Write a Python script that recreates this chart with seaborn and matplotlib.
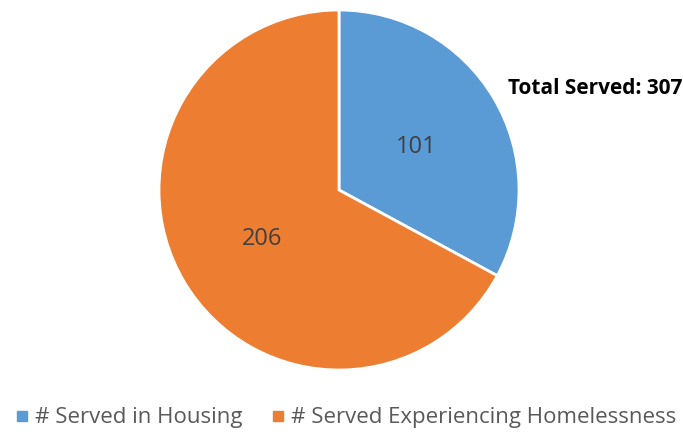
import matplotlib
matplotlib.use('Agg')
import matplotlib.pyplot as plt
import seaborn as sns
from matplotlib.lines import Line2D

categories = ['# Served in Housing', '# Served Experiencing Homelessness']
served = [101, 206]
total_label = 'Total Served: 307'

sns.set_theme(style='white')
plt.rcParams['font.family'] = ['Open Sans', 'DejaVu Sans']
colors = sns.color_palette(['#5B9BD5', '#ED7D31'])

fig = plt.figure(figsize=(6.83, 4.34), dpi=100)
ax = fig.add_axes([159 / 683, 64 / 434, 360 / 683, 360 / 434])

wedges, texts, autotexts = ax.pie(
    served, colors=colors, startangle=90, counterclock=False,
    autopct=lambda p: f'{round(p * sum(served) / 100)}', pctdistance=0.5,
    wedgeprops=dict(edgecolor='white', linewidth=2),
    textprops=dict(color='#404040', fontsize=17),
)
for t in autotexts:
    t.set_va('center_baseline')
ax.set_xlim(-1, 1)
ax.set_ylim(-1, 1)
ax.set_aspect('equal')

fig.text(508 / 683, 1 - 88 / 434, total_label, fontsize=15, fontweight='bold',
         color='black', va='center', ha='left')

handles = [Line2D([0], [0], marker='s', linestyle='', markersize=7.5,
                  markerfacecolor=c, markeredgecolor=c) for c in colors]
fig.legend(handles, categories, loc='center', bbox_to_anchor=(0.503, 1 - 418 / 434),
           ncol=2, frameon=False, fontsize=16, handletextpad=0.1,
           handlelength=1.0, columnspacing=1.1, labelcolor='#595959')

fig.savefig('out.png', dpi=100)
